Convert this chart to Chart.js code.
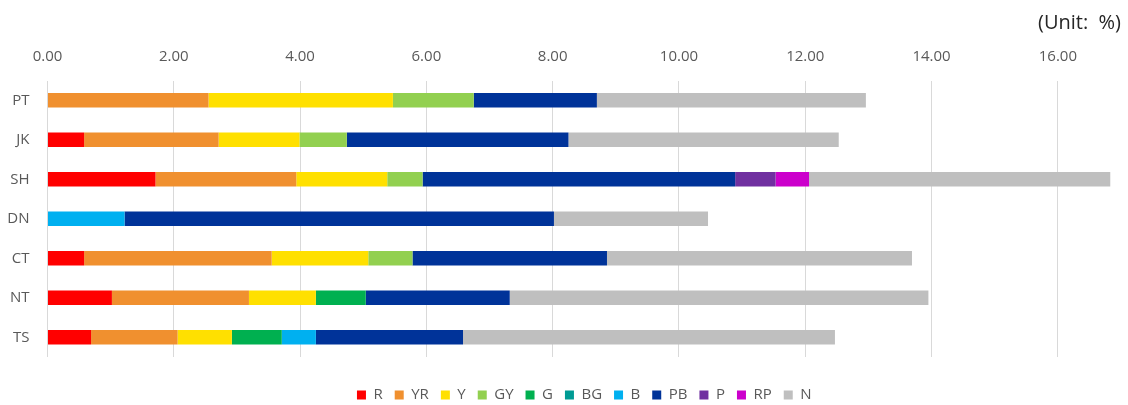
<!DOCTYPE html>
<html>
<head>
<meta charset="utf-8">
<script src="https://cdn.jsdelivr.net/npm/chart.js@4/dist/chart.umd.min.js"></script>
<style>
  html, body { margin: 0; padding: 0; background: #fff; }
  #wrap { width: 1128px; height: 405px; position: relative; }
</style>
</head>
<body>
<div id="wrap"><canvas id="myChart"></canvas></div>
<script>
const categories = ["PT", "JK", "SH", "DN", "CT", "NT", "TS"];

// share of each colour group per region (%)
const r  = [0, 0.58, 1.71, 0, 0.58, 1.02, 0.69];
const yr = [2.55, 2.13, 2.23, 0, 2.97, 2.17, 1.37];
const y  = [2.92, 1.28, 1.44, 0, 1.53, 1.06, 0.86];
const gy = [1.28, 0.75, 0.56, 0, 0.70, 0, 0];
const g  = [0, 0, 0, 0, 0, 0.79, 0.79];
const bg = [0, 0, 0, 0, 0, 0, 0];
const b  = [0, 0, 0, 1.22, 0, 0, 0.54];
const pb = [1.95, 3.51, 4.95, 6.80, 3.08, 2.28, 2.33];
const p  = [0, 0, 0.64, 0, 0, 0, 0];
const rp = [0, 0, 0.53, 0, 0, 0, 0];
const n  = [4.26, 4.28, 4.77, 2.44, 4.83, 6.63, 5.89];

const axisMax = 17;
const axisStep = 2;

const series = [
  { label: "R",  data: r,  color: "#FF0000" },
  { label: "YR", data: yr, color: "#F0902F" },
  { label: "Y",  data: y,  color: "#FFE000" },
  { label: "GY", data: gy, color: "#92D050" },
  { label: "G",  data: g,  color: "#00B050" },
  { label: "BG", data: bg, color: "#009B94" },
  { label: "B",  data: b,  color: "#00B0F0" },
  { label: "PB", data: pb, color: "#003399" },
  { label: "P",  data: p,  color: "#7030A0" },
  { label: "RP", data: rp, color: "#CC00CC" },
  { label: "N",  data: n,  color: "#BFBFBF" },
];

const FONT = "'Open Sans', 'Noto Sans', sans-serif";

const ctx = document.getElementById("myChart").getContext("2d");
new Chart(ctx, {
  type: "bar",
  data: {
    labels: categories,
    datasets: series.map((s) => ({
      label: s.label,
      data: s.data,
      backgroundColor: s.color,
      borderWidth: 0,
      categoryPercentage: 1,
      barPercentage: 0.37,
    })),
  },
  options: {
    indexAxis: "y",
    responsive: true,
    maintainAspectRatio: false,
    animation: false,
    layout: { padding: { left: 0, right: 7, top: 0, bottom: 0 } },
    plugins: {
      tooltip: { enabled: false },
      title: {
        display: true,
        text: "(Unit:  %)",
        align: "end",
        color: "#262626",
        font: { family: FONT, size: 20, weight: "normal", lineHeight: 1 },
        padding: { top: 13.5, bottom: -1 },
      },
      legend: {
        position: "bottom",
        fullSize: false,
        maxHeight: 48,
        title: { display: true, text: "", font: { size: 18.5, lineHeight: 1 }, padding: 0 },
        labels: {
          boxWidth: 9,
          boxHeight: 9,
          padding: 12,
          color: "#595959",
          font: { family: FONT, size: 15 },
        },
      },
    },
    scales: {
      x: {
        position: "top",
        stacked: true,
        min: 0,
        max: axisMax,
        border: { display: false },
        grid: { color: "#D9D9D9", drawTicks: false },
        ticks: {
          stepSize: axisStep,
          includeBounds: false,
          padding: 15,
          color: "#595959",
          font: { family: FONT, size: 15 },
          callback: (v) => Number(v).toFixed(2),
        },
      },
      y: {
        stacked: true,
        border: { display: false },
        grid: { display: false, drawTicks: false },
        ticks: {
          padding: 18,
          color: "#595959",
          font: { family: FONT, size: 15 },
        },
        afterFit: (axis) => { axis.width = 47.5; },
      },
    },
  },
});
</script>
</body>
</html>
